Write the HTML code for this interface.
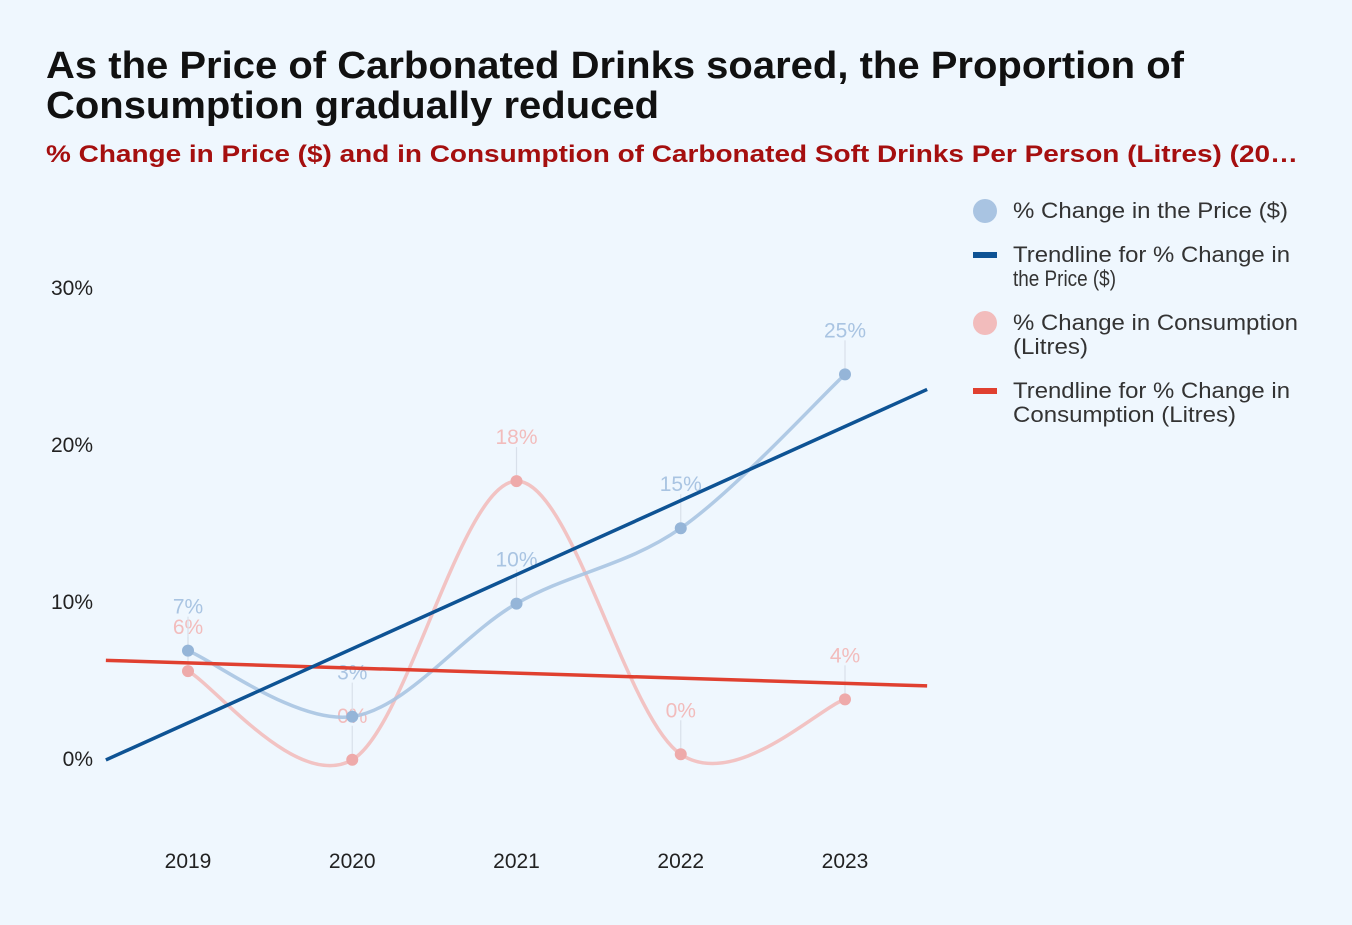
<!DOCTYPE html>
<html><head><meta charset="utf-8"><style>
body{margin:0;background:#eff7fe;font-family:"Liberation Sans",Arial,sans-serif;}
svg text{font-family:"Liberation Sans",Arial,sans-serif;}
</style></head><body>
<svg id="c" width="1352" height="920">
<rect width="1352" height="920" fill="#eff7fe"/>
<text x="46" y="78" font-size="38" font-weight="bold" fill="#111" textLength="1138" lengthAdjust="spacingAndGlyphs">As the Price of Carbonated Drinks soared, the Proportion of</text>
<text x="46" y="118" font-size="38" font-weight="bold" fill="#111" textLength="613" lengthAdjust="spacingAndGlyphs">Consumption gradually reduced</text>
<text x="46" y="162" font-size="24" font-weight="bold" fill="#a50f0f" textLength="1252" lengthAdjust="spacingAndGlyphs">% Change in Price ($) and in Consumption of Carbonated Soft Drinks Per Person (Litres) (20…</text>
<g id="yaxis"></g>
<g id="xaxis"></g>
<g id="marks"></g>
<g font-size="22" fill="#333">
<circle cx="985" cy="211" r="12" fill="#a9c4e2"/>
<text x="1013" y="218" fill="#333" textLength="275" lengthAdjust="spacingAndGlyphs">% Change in the Price ($)</text>
<rect x="973" y="252" width="24" height="6" fill="#0e5394"/>
<text x="1013" y="262" fill="#333" textLength="277" lengthAdjust="spacingAndGlyphs">Trendline for % Change in</text>
<text x="1013" y="286" fill="#333" textLength="103" lengthAdjust="spacingAndGlyphs">the Price ($)</text>
<circle cx="985" cy="323" r="12" fill="#f2bcbc"/>
<text x="1013" y="330" fill="#333" textLength="285" lengthAdjust="spacingAndGlyphs">% Change in Consumption</text>
<text x="1013" y="354" fill="#333" textLength="75" lengthAdjust="spacingAndGlyphs">(Litres)</text>
<rect x="973" y="388" width="24" height="6" fill="#e04030"/>
<text x="1013" y="398" fill="#333" textLength="277" lengthAdjust="spacingAndGlyphs">Trendline for % Change in</text>
<text x="1013" y="422" fill="#333" textLength="223" lengthAdjust="spacingAndGlyphs">Consumption (Litres)</text>
</g>
</svg>
<script>
const years = ["2019","2020","2021","2022","2023"];
const priceChange = [6.9, 2.7, 9.9, 14.7, 24.5];
const consumptionChange = [5.6, -0.05, 17.7, 0.3, 3.8];
const yTicks = [0, 10, 20, 30];

const NS="http://www.w3.org/2000/svg";
const X0=188, DX=164.25, Y0=759, DY=15.7;
const xs=i=>X0+i*DX;
const ys=v=>Y0-v*DY;
function mk(tag,attrs,parent){const e=document.createElementNS(NS,tag);for(const k in attrs)e.setAttribute(k,attrs[k]);parent.appendChild(e);return e;}
const yg=document.getElementById('yaxis'),xg=document.getElementById('xaxis'),mg=document.getElementById('marks');
yTicks.forEach(t=>{const e=mk('text',{x:93,y:ys(t)+7,'text-anchor':'end','font-size':21,fill:'#222'},yg);e.textContent=t+'%';

});
years.forEach((y,i)=>{const e=mk('text',{x:xs(i),y:868,'text-anchor':'middle','font-size':21,fill:'#222'},xg);e.textContent=y;

});
function curve(vals){const p=vals.map((v,i)=>[xs(i),ys(v)]);let d=`M${p[0][0]},${p[0][1]}`;
for(let i=0;i<p.length-1;i++){const p0=p[i-1]||p[i],p1=p[i],p2=p[i+1],p3=p[i+2]||p2;
const c1=[p1[0]+(p2[0]-p0[0])/6,p1[1]+(p2[1]-p0[1])/6],c2=[p2[0]-(p3[0]-p1[0])/6,p2[1]-(p3[1]-p1[1])/6];
d+=`C${c1[0]},${c1[1]} ${c2[0]},${c2[1]} ${p2[0]},${p2[1]}`;}return d;}
function trend(vals){const n=vals.length,mx=(n-1)/2,my=vals.reduce((a,b)=>a+b)/n;let s=0,q=0;vals.forEach((v,i)=>{s+=(i-mx)*(v-my);q+=(i-mx)**2;});const b=s/q;return i=>my+b*(i-mx);}
function series(vals,color,lc,name){
const ln=mk('path',{d:curve(vals),fill:'none',stroke:color,'stroke-width':3.5,opacity:0.9},mg);


vals.forEach((v,i)=>{
mk('line',{x1:xs(i),x2:xs(i),y1:ys(v)-6,y2:ys(v)-34,stroke:'#d8e0ea','stroke-width':1.2},mg);
const c=mk('circle',{cx:xs(i),cy:ys(v),r:6,fill:lc},mg);


const t=mk('text',{x:xs(i),y:ys(v)-37,'text-anchor':'middle','font-size':21,fill:color},mg);t.textContent=Math.round(v)+'%';

});
}
function trendLine(vals,color,name){const f=trend(vals);const l=mk('line',{x1:xs(-0.5),y1:ys(f(-0.5)),x2:xs(4.5),y2:ys(f(4.5)),stroke:color,'stroke-width':3.5},mg);

}
series(consumptionChange,'#f2bcbc','#eeaaaa','consumption');
series(priceChange,'#a9c4e2','#95b5d8','price');
trendLine(consumptionChange,'#e04030','consumption-trendline');
trendLine(priceChange,'#0e5394','price-trendline');
</script>
</body></html>
